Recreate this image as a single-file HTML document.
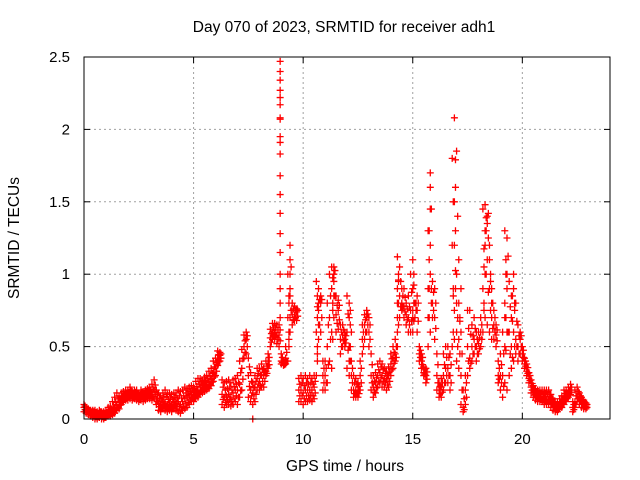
<!DOCTYPE html>
<html><head><meta charset="utf-8"><style>
body{margin:0;background:#fff}
svg{display:block;font-family:"Liberation Sans",sans-serif}
</style></head><body>
<svg id="chart" width="640" height="480" viewBox="0 0 640 480">
<rect width="640" height="480" fill="#fff"/>
<text x="344" y="32" font-size="15.5" text-anchor="middle">Day 070 of 2023, SRMTID for receiver adh1</text>
<text x="345" y="471" font-size="15.5" text-anchor="middle">GPS time / hours</text>
<text transform="translate(19,238) rotate(-90)" font-size="15.5" text-anchor="middle">SRMTID / TECUs</text>
<g id="grid"></g><g id="ticks"></g><g id="marks"></g>
<rect x="84" y="57" width="526" height="362" fill="none" stroke="#000" stroke-width="1"/>
</svg>
<script>
const xTicks=[0,5,10,15,20];
const yTicks=[0,0.5,1,1.5,2,2.5];
const yTickLabels=["0","0.5","1","1.5","2","2.5"];
const lo=[.05,.04,.03,.02,.01,0,0,.01,0,0,
.01,.02,.02,.03,.04,.06,.07,.1,.12,.13,
.13,.14,.13,.14,.13,.12,.13,.12,.13,.14,
.14,.13,.14,.1,.06,.05,.07,.06,.05,.06,
.05,.07,.06,.05,.04,.06,.07,.08,.1,.12,
.12,.14,.15,.17,.18,.19,.2,.21,.23,.26,
.3,.37,.4,.1,.08,.1,.1,.09,.1,.12,
.1,.15,.2,.42,.45,.15,.12,.1,.12,.2,
.2,.22,.22,.3,.35,.5,.55,.55,.52,.5,
.38,.37,.38,.4,.6,.65,.68,.68,.12,.12,
.1,.12,.12,.13,.12,.14,.3,.55,.6,.2,
.2,.25,.4,.6,.7,.6,.62,.45,.5,.5,
.35,.3,.2,.15,.15,.15,.2,.45,.55,.6,
.5,.2,.15,.18,.22,.25,.22,.22,.2,.22,
.3,.35,.4,.5,.7,.75,.7,.65,.6,.6,
.6,.7,.6,.4,.35,.3,.25,.5,.6,.7,
.55,.2,.15,.15,.2,.25,.25,.2,.5,.55,
.4,.35,.1,.05,.1,.3,.35,.4,.45,.4,
.45,.5,.6,.7,.65,.6,.55,.55,.5,.25,
.2,.15,.25,.2,.3,.35,.4,.45,.4,.45,
.4,.35,.3,.25,.18,.15,.13,.12,.12,.12,
.1,.1,.1,.08,.06,.05,.05,.07,.08,.1,
.12,.15,.17,.05,.08,.12,.1,.08,.07,.07];
const mid=[.08,.06,.05,.04,.04,.03,.03,.04,.03,.02,
.03,.04,.05,.06,.08,.1,.12,.14,.15,.16,
.17,.18,.16,.17,.16,.15,.17,.16,.17,.18,
.18,.17,.2,.14,.11,.1,.12,.11,.1,.11,
.1,.12,.11,.12,.1,.12,.14,.15,.16,.17,
.17,.19,.2,.22,.23,.24,.24,.26,.28,.32,
.36,.42,.44,.17,.15,.16,.17,.15,.18,.2,
.2,.24,.35,.5,.55,.3,.2,.18,.22,.28,
.26,.3,.3,.33,.4,.56,.6,.6,.58,.58,
.4,.38,.42,.7,.9,.72,.72,.74,.2,.2,
.18,.2,.2,.2,.2,.22,.6,.75,.8,.3,
.3,.5,.7,.9,1.0,.72,.75,.55,.58,.55,
.6,.5,.3,.2,.2,.2,.3,.55,.65,.7,
.6,.3,.22,.25,.3,.32,.3,.28,.27,.3,
.38,.42,.45,.8,.85,.8,.78,.72,.7,.75,
.75,.8,.75,.45,.4,.32,.3,.9,1.2,.8,
.7,.3,.2,.22,.3,.35,.35,.3,1.2,1.5,
.6,.55,.3,.08,.2,.5,.42,.5,.55,.5,
.52,.6,.9,1.3,1.1,.9,.7,.65,.58,.3,
.3,.3,.7,1.0,.6,.5,.6,.55,.5,.55,
.45,.38,.33,.28,.22,.18,.17,.16,.15,.14,
.15,.14,.14,.12,.1,.08,.08,.1,.12,.15,
.16,.18,.2,.08,.12,.16,.14,.12,.1,.09];
const hi=[.1,.08,.07,.06,.06,.06,.05,.06,.05,.05,
.06,.08,.09,.12,.15,.18,.16,.18,.19,.2,
.2,.22,.19,.2,.2,.18,.2,.19,.2,.21,
.22,.24,.27,.2,.18,.16,.18,.2,.17,.18,
.17,.18,.18,.2,.19,.2,.22,.21,.22,.23,
.22,.26,.28,.28,.27,.29,.3,.33,.35,.4,
.42,.47,.46,.27,.25,.26,.27,.25,.27,.28,
.3,.4,.48,.58,.6,.42,.32,.25,.3,.35,
.35,.38,.35,.4,.45,.62,.66,.66,.65,.65,
.45,.4,.5,1.0,1.2,.8,.78,.76,.28,.3,
.28,.3,.28,.3,.28,.3,.95,.9,.85,.4,
.4,.8,1.0,1.05,1.05,.85,.82,.65,.65,.6,
.85,.8,.4,.3,.28,.25,.4,.65,.72,.75,
.7,.45,.3,.32,.38,.4,.38,.35,.33,.36,
.45,.5,.55,1.12,1.05,.9,.9,.8,.85,1.0,
1.1,.8,.85,.5,.45,.36,.35,1.3,1.7,.95,
.9,.45,.25,.28,.45,.5,.5,.45,1.8,2.08,
.8,.8,.6,.2,.3,.75,.75,.65,.7,.6,
.6,.7,1.45,1.48,1.4,1.1,.9,.75,.65,.4,
.45,.6,1.3,1.25,.95,.85,1.0,.8,.65,.6,
.5,.42,.38,.32,.27,.23,.21,.2,.2,.2,
.2,.2,.2,.17,.14,.12,.12,.14,.16,.2,
.2,.22,.24,.12,.2,.22,.18,.15,.13,.11];
const extraT=[8.95,8.95,8.95,8.95,8.95,8.95,8.95,8.95,8.95,8.95,8.95,8.95,8.95,8.95,8.95,8.95,8.95,8.95,8.95,8.95,7.7,
9.35,9.35,9.35,9.4,9.4,9.4,9.4,
10.65,10.65,10.65,10.65,10.7,10.7,
11.3,11.3,11.35,11.35,11.4,11.4,
12.1,12.1,12.15,12.15,12.2,
14.3,14.3,14.3,14.35,14.35,14.35,
15.0,15.0,15.05,15.05,
15.7,15.7,15.75,15.75,15.75,15.8,15.8,15.8,15.85,
16.85,16.85,16.9,16.9,16.95,16.95,16.95,17.0,17.0,17.05,17.1,17.15,17.2,
18.25,18.25,18.3,18.3,18.35,18.4,18.45,18.5,18.55,18.6,
19.2,19.2,19.25,19.25,19.3,19.3,19.5,19.55,19.6,19.65];
const extraV=[.7,.8,.9,1.0,1.15,1.28,1.42,1.55,1.68,1.83,1.91,1.95,2.07,2.08,2.17,2.22,2.27,2.34,2.4,2.47,0,
.5,.6,.8,.7,.85,1.0,1.1,
.4,.5,.7,.85,.65,.8,
.35,.6,.55,.8,.85,.95,
.4,.7,.5,.75,.6,
.6,.7,.9,.95,1.0,.8,
.7,.9,.8,1.0,
.5,.7,.9,1.1,1.3,1.0,1.45,1.6,.8,
.6,.9,.75,1.2,.9,1.3,1.6,1.0,1.85,1.4,1.1,.7,.9,
.8,1.05,1.0,1.2,1.3,1.35,1.42,1.2,.95,.8,
.5,.8,.7,1.1,.6,.9,.7,.85,.9,.75];
const NS="http://www.w3.org/2000/svg";
const X0=84,X1=610,Y0=419,Y1=57;
function xs(t){return X0+(X1-X0)*t/24;}
function ys(v){return Y0-(Y0-Y1)*v/2.5;}
const grid=document.getElementById('grid'),tk=document.getElementById('ticks'),mk=document.getElementById('marks');
function el(tag,attrs,parent){const e=document.createElementNS(NS,tag);for(const k in attrs)e.setAttribute(k,attrs[k]);parent.appendChild(e);return e;}
xTicks.forEach(t=>{
 const x=xs(t);
 if(t>0){const g=el('line',{x1:x,x2:x,y1:Y0,y2:Y1,stroke:'#a0a0a0','stroke-dasharray':'2,3'},grid);
 
 }
 el('line',{x1:x,x2:x,y1:Y0,y2:Y0-6,stroke:'#000'},tk);
 el('line',{x1:x,x2:x,y1:Y1,y2:Y1+6,stroke:'#000'},tk);
 const lb=el('text',{x:x,y:444,'font-size':15,'text-anchor':'middle'},tk);
 lb.textContent=String(t);
 
 
});
yTicks.forEach((v,i)=>{
 const y=ys(v);
 if(v>0&&v<2.5){const g=el('line',{x1:X0,x2:X1,y1:y,y2:y,stroke:'#a0a0a0','stroke-dasharray':'2,3'},grid);
 
 }
 el('line',{x1:X0,x2:X0+6,y1:y,y2:y,stroke:'#000'},tk);
 el('line',{x1:X1,x2:X1-6,y1:y,y2:y,stroke:'#000'},tk);
 const lb=el('text',{x:70,y:y+5,'font-size':15,'text-anchor':'end'},tk);
 lb.textContent=yTickLabels[i];
 
 
});
let d='';
function plus(t,v){const x=xs(t),y=ys(v);d+='M'+(x-3.5)+' '+y+'h7M'+x+' '+(y-3.5)+'v7';}
for(let i=0;i<lo.length;i++){const t=i*0.1;plus(t,lo[i]);plus(t,mid[i]);plus(t,hi[i]);
 plus(t+0.05,(lo[i]+mid[i])/2);plus(t+0.05,(mid[i]+hi[i])/2);}
for(let i=0;i<extraT.length;i++)plus(extraT[i],extraV[i]);
const p=el('path',{d:d,stroke:'#ff0000','stroke-width':1.3,fill:'none'},mk);


</script>
</body></html>
